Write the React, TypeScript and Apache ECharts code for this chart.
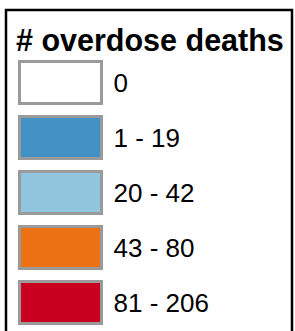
import React, { useEffect, useRef } from "react";
import * as echarts from "echarts";

const titleText = "# overdose deaths";
const categories = ["0", "1 - 19", "20 - 42", "43 - 80", "81 - 206"];
const colors = ["#ffffff", "#4292c6", "#92c5de", "#ec7014", "#ca0020"];

export default function App() {
  const ref = useRef<HTMLDivElement>(null);
  useEffect(() => {
    if (!ref.current) return;
    const chart = echarts.init(ref.current, null, { renderer: "svg" });
    chart.setOption({
      animation: false,
      backgroundColor: "#ffffff",
      grid: { show: false, left: 0, top: 0, width: 1, height: 1 },
      xAxis: { type: "category", show: false, data: [] },
      yAxis: { type: "value", show: false },
      title: {
        text: titleText,
        left: 16,
        top: 24,
        padding: 0,
        textStyle: {
          fontFamily: "Liberation Sans, Arial, sans-serif",
          fontWeight: "bold",
          fontSize: 30.5,
          color: "#000000",
        },
      },
      graphic: [
        {
          type: "rect",
          z: -10,
          silent: true,
          shape: { x: 6, y: 10, width: 286, height: 360 },
          style: { fill: "#ffffff", stroke: "#000000", lineWidth: 2.5 },
        },
      ],
      legend: {
        orient: "vertical",
        left: 18,
        top: 60,
        height: 400,
        padding: 0,
        itemWidth: 82,
        itemHeight: 42,
        itemGap: 10,
        icon: "rect",
        selectedMode: false,
        itemStyle: { borderColor: "#9a9a9a", borderWidth: 3 },
        textStyle: {
          fontFamily: "Liberation Sans, Arial, sans-serif",
          fontSize: 26,
          color: "#000000",
          padding: [0, 0, 0, 7],
        },
        data: categories,
      },
      series: categories.map((name, i) => ({
        type: "bar",
        name,
        data: [],
        itemStyle: { color: colors[i] },
      })),
    });
    return () => chart.dispose();
  }, []);
  return (
    <div
      ref={ref}
      style={{ position: "fixed", left: 0, top: 0, width: 295, height: 331 }}
    />
  );
}
